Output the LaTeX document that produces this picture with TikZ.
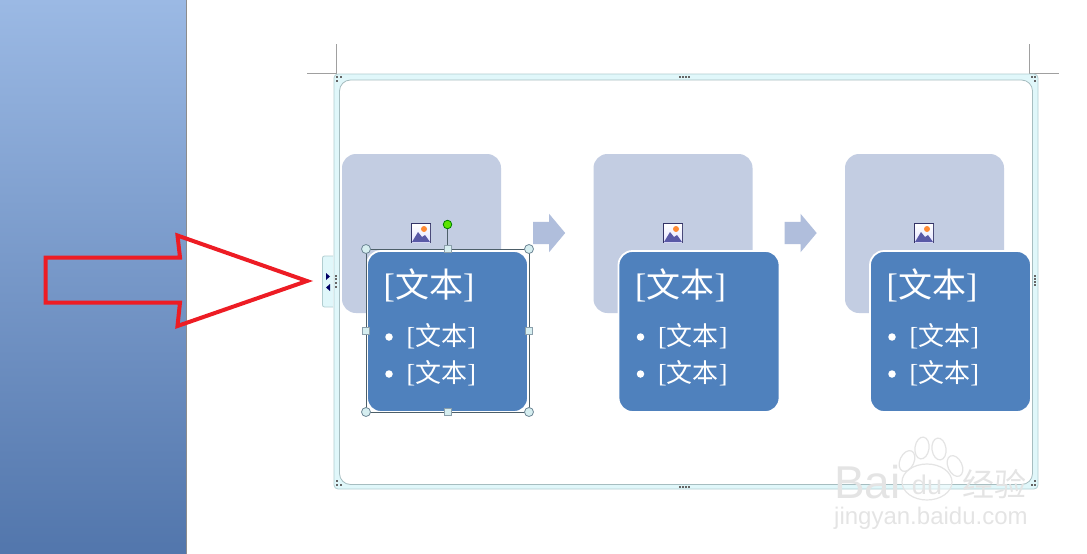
\documentclass[tikz,border=0pt]{standalone}
\usepackage{fontspec}
\newfontfamily\cjk{Noto Sans CJK SC}
\newfontfamily\marksans{Liberation Sans}
\setmainfont{Liberation Serif}
\usetikzlibrary{shapes.arrows,positioning}
\definecolor{sidetop}{RGB}{155,185,228}
\definecolor{sidebottom}{RGB}{82,118,172}
\definecolor{photofill}{RGB}{195,205,226}
\definecolor{cardfill}{RGB}{79,129,189}
\definecolor{chevronfill}{RGB}{176,190,220}
\definecolor{frameband}{RGB}{224,247,250}
\definecolor{frameedge}{RGB}{176,205,208}
\definecolor{guidegray}{RGB}{160,160,160}
\definecolor{markred}{RGB}{237,28,36}
\definecolor{handlefill}{RGB}{214,238,240}
\definecolor{handleedge}{RGB}{110,135,150}
\definecolor{markcolor}{RGB}{228,228,228}
\tikzset{
  photo box/.style={fill=photofill,rounded corners=14pt,minimum size=159pt,inner sep=0pt},
  text card/.style={fill=cardfill,draw=white,line width=1.8pt,rounded corners=14pt,minimum size=161pt,inner sep=0pt},
  flow arrow/.style={single arrow,fill=chevronfill,single arrow head extend=8pt,single arrow tip angle=100,minimum height=32pt,inner sep=0pt,single arrow head indent=0pt},
  card title/.style={text=white,font=\fontsize{34}{34}\selectfont,inner sep=0pt,anchor=west},
  card item/.style={text=white,font=\fontsize{26}{26}\selectfont,inner sep=0pt,anchor=west},
  card bullet/.style={circle,fill=white,inner sep=0pt,minimum size=7.5pt},
  corner handle/.style={circle,draw=handleedge,fill=handlefill,line width=.8pt,inner sep=0pt,minimum size=9pt},
  side handle/.style={draw=handleedge!80,fill=handlefill,line width=.8pt,inner sep=0pt,minimum size=7pt},
  guide line/.style={draw=guidegray,line width=.8pt},
  grip dot/.style={fill=black!60,inner sep=0pt,minimum size=1.8pt},
  mark text/.style={text=markcolor,inner sep=0pt}
}
\begin{document}
\begin{tikzpicture}[x=1pt,y=-1pt]
  \useasboundingbox (0,0) rectangle (1087,554);
  % side panel
  \shade[top color=sidetop,bottom color=sidebottom] (0,0) rectangle (186,554);
  \draw[black!45,line width=1pt] (186,0)--(186,554);

  % guides
  \draw[guide line] (336,44)--(336,74);
  \draw[guide line] (307,73)--(336,73);
  \draw[guide line] (1029,44)--(1029,74);
  \draw[guide line] (1029,73)--(1059,73);

  % frame
  \draw[draw=frameedge,fill=frameband,line width=.8pt,rounded corners=4pt] (334,74) rectangle (1038,489);
  \draw[draw=frameedge!80!gray,fill=white,line width=.8pt,rounded corners=11pt] (339.5,80) rectangle (1032.5,484.5);
  \foreach \x/\y in {337/77,341/77,337/81,1032/77,1035/77,1035/81,1032/485,1035/485,1035/481,337/485,341/485,337/481,
    680/77,683/77,686/77,689/77,680/487,683/487,686/487,689/487,
    1035/276,1035/279,1035/282,1035/285}
    \node[grip dot] at (\x,\y) {};

  % tab
  \draw[draw=frameedge,fill=frameband,line width=.8pt,rounded corners=2pt] (333,256)--(322.5,256)--(322.5,307)--(333,307);
  \fill[black!60!blue] (326,273)--(330,276.5)--(326,280)--cycle;
  \fill[black!60!blue] (330,284)--(326,287.5)--(330,291)--cycle;
  \foreach \y in {276,279,283,287}
    \node[grip dot] at (336,\y) {};

  % boxes
  \foreach \i/\x/\px in {1/421.5/421,2/673/673,3/924.5/924}{
    \node[photo box] (photo\i) at (\x,233.5) {};
    \fill[blue!25!black!80] (\px-10,223) rectangle (\px+10,243);
    \shade[top color=white,bottom color=blue!10] (\px-9,224) rectangle (\px+9,242);
    \fill[orange!85!red!80] (\px+3,229) circle (3pt);
    \fill[blue!30!gray] (\px-9,242)--(\px-3,232)--(\px+1,237)--(\px+4,235)--(\px+9,242)--cycle;
  }
  \node[flow arrow] (arrow1) at (544.5,233) {\rule{0pt}{22pt}};
  \node[flow arrow] (arrow2) at (796,233) {\rule{0pt}{22pt}};
  \foreach \i/\x in {1/447.5,2/699,3/950.5}{
    \node[text card] (card\i) at (\x,331.5) {};
    \node[card title] (title\i) at (\x-64,285) {[{\cjk 文本}]};
    \node[card bullet] (bulletA\i) at (\x-58.5,337) {};
    \node[card bullet] (bulletB\i) at (\x-58.5,374) {};
    \node[card item] (itemA\i) at (\x-41,336) {[{\cjk 文本}]};
    \node[card item] (itemB\i) at (\x-41,373) {[{\cjk 文本}]};
  }

  % selection
  \draw[handleedge!70!black,line width=.8pt] (366,249.5) rectangle (529,412);
  \draw[handleedge!70!black,line width=.8pt] (447.5,224)--(447.5,249);
  \node[circle,draw=black!50!green,fill=green!60!yellow!90!black,line width=.8pt,inner sep=0pt,minimum size=8.5pt] (rotate) at (447.5,224.5) {};
  \foreach \x/\y in {366/249,529/249,366/412,529/412}
    \node[corner handle] at (\x,\y) {};
  \foreach \x/\y in {447.5/249,447.5/412,366/330.5,529/330.5}
    \node[side handle] at (\x,\y) {};

  % red arrow
  \draw[markred,line width=4pt,miter limit=10]
    (45.5,257.5)--(180,257.5)--(177.5,235.5)--(307,281)--(177.5,326)--(180,302.5)--(45.5,302.5)--cycle;

  % watermark
  \node[mark text,font=\marksans\fontsize{46}{46}\selectfont,anchor=base west] (markBai) at (834,498) {Bai};
  \draw[markcolor,line width=1.2pt,fill=white,fill opacity=.4] (927,482) ellipse (25pt and 18pt);
  \node[mark text,font=\marksans\fontsize{27}{27}\selectfont,anchor=base] (markdu) at (927,494) {du};
  \foreach \x/\y/\a in {907/461/-25,922/448/-8,939/449/8,955/466/25}
    \draw[markcolor,line width=1.2pt,rotate around={\a:(\x,\y)}] (\x,\y) ellipse (7pt and 11pt);
  \node[mark text,font=\cjk\fontsize{32}{32}\selectfont,anchor=west] (markjy) at (962,484) {经验};
  \node[mark text,font=\marksans\fontsize{24}{24}\selectfont,anchor=base west] (markurl) at (834,524) {jingyan.baidu.com};
\end{tikzpicture}
\end{document}
